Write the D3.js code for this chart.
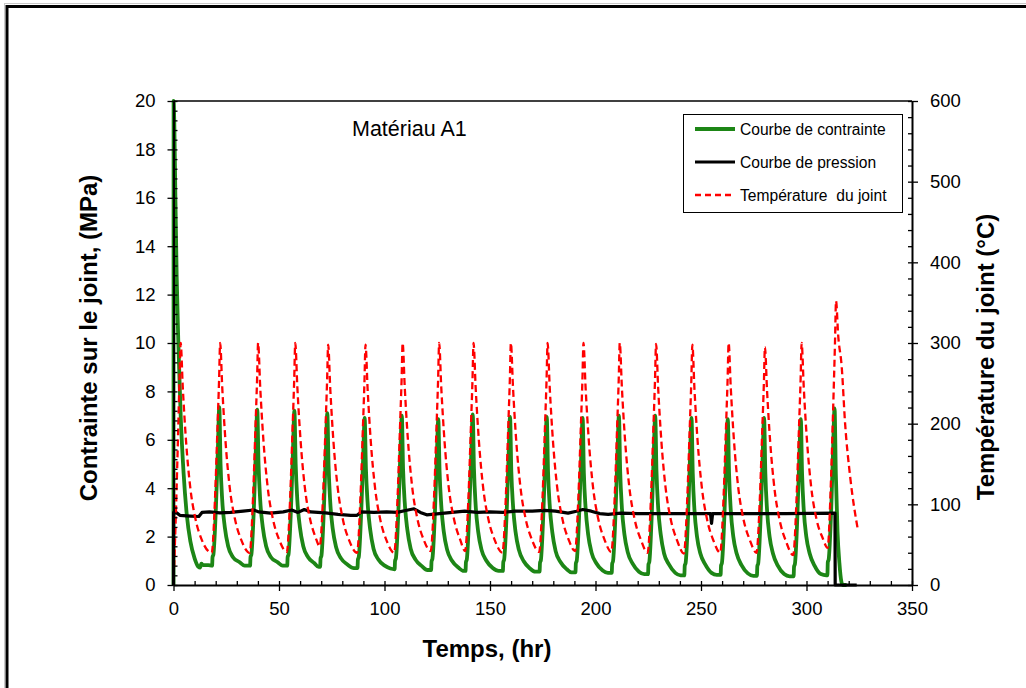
<!DOCTYPE html>
<html><head><meta charset="utf-8">
<script src="https://cdn.jsdelivr.net/npm/d3@7"></script>
<style>
html,body{margin:0;padding:0;background:#fff;}
svg{display:block;font-family:"Liberation Sans",Arial,sans-serif;}
</style></head>
<body>
<svg id="c" width="1026" height="688"></svg>
<script>
// ---- data ----
const xTicks = [0,50,100,150,200,250,300,350];
const yLeftTicks = [0,2,4,6,8,10,12,14,16,18,20];
const yRightTicks = [0,100,200,300,400,500,600];
const seriesNames = ["Courbe de contrainte","Courbe de pression","Température  du joint"];
const chartLabel = "Matériau A1";

// Contrainte (MPa) : [temps hr, valeur]
const contrainte = [
[0,0],[0.05,20],[0.4,19],[0.9,16],[1.5,12.8],[2.3,10],[3.4,7],[4.8,4.6],[6.3,2.9],[8,1.8],[10,1.1],[11.8,0.75],[12.6,0.72],[13.2,0.88],[14,0.82],[16.5,0.82],
[18.3,0.8],[18.5,1.15],[18.9,1.25],[20.1,3.2],[21.0,5.5],[21.7,7.35],[22.3,5.0],[23.1,3.5],[24.3,2.4],[25.9,1.6],[28.2,1.15],[31.2,0.95],[33.7,0.8],
[36.3,0.8],[36.5,1.15],[36.9,1.25],[38.1,3.2],[39.0,5.5],[39.7,7.25],[40.3,5.0],[41.1,3.5],[42.3,2.4],[43.9,1.6],[46.2,1.15],[49.2,0.95],[51.7,0.8],
[53.9,0.8],[54.1,1.15],[54.5,1.25],[55.7,3.2],[56.6,5.5],[57.3,7.2],[57.9,5.0],[58.7,3.5],[59.9,2.4],[61.5,1.6],[63.8,1.15],[66.8,0.9],[68.8,0.75],
[69.5,0.75],[69.7,1.1],[70.1,1.2],[71.3,3.2],[72.2,5.5],[72.9,7.1],[73.5,4.9],[74.3,3.4],[75.5,2.3],[77.1,1.55],[79.4,1.1],[82.4,0.85],[85.5,0.7],
[87.2,0.7],[87.4,1.05],[87.8,1.15],[89.0,3.1],[89.9,5.3],[90.6,6.9],[91.2,4.8],[92.0,3.4],[93.2,2.3],[94.8,1.5],[97.1,1.05],[100.1,0.8],[102.8,0.68],
[104.8,0.65],[105.0,1.0],[105.4,1.1],[106.6,3.1],[107.5,5.4],[108.2,7.0],[108.8,4.8],[109.6,3.4],[110.8,2.3],[112.4,1.5],[114.7,1.05],[117.7,0.78],[120.3,0.62],
[122.1,0.62],[122.3,0.98],[122.7,1.08],[123.9,3.0],[124.8,5.3],[125.5,6.85],[126.1,4.7],[126.9,3.3],[128.1,2.2],[129.7,1.45],[132.0,1.0],[135.0,0.72],[137.6,0.58],
[138.4,0.58],[138.6,0.95],[139.0,1.05],[140.2,3.1],[141.1,5.4],[141.8,7.05],[142.4,4.8],[143.2,3.3],[144.4,2.2],[146.0,1.45],[148.3,1.0],[151.3,0.7],[154.1,0.58],
[156.1,0.58],[156.3,0.95],[156.7,1.05],[157.9,3.0],[158.8,5.3],[159.5,6.95],[160.1,4.7],[160.9,3.3],[162.1,2.2],[163.7,1.45],[166.0,0.98],[169.0,0.68],[171.5,0.55],
[173.5,0.55],[173.7,0.92],[174.1,1.02],[175.3,3.0],[176.2,5.3],[176.9,6.95],[177.5,4.7],[178.3,3.3],[179.5,2.2],[181.1,1.4],[183.4,0.95],[186.4,0.65],[188.6,0.52],
[190.5,0.52],[190.7,0.9],[191.1,1.0],[192.3,3.0],[193.2,5.3],[193.9,6.9],[194.5,4.6],[195.3,3.2],[196.5,2.1],[198.1,1.35],[200.4,0.9],[203.4,0.6],[205.9,0.5],
[207.7,0.5],[207.9,0.88],[208.3,0.98],[209.5,3.0],[210.4,5.4],[211.1,7.0],[211.7,4.7],[212.5,3.2],[213.7,2.1],[215.3,1.35],[217.6,0.88],[220.6,0.55],[223.1,0.45],
[224.9,0.45],[225.1,0.85],[225.5,0.95],[226.7,3.0],[227.6,5.4],[228.3,7.0],[228.9,4.7],[229.7,3.2],[230.9,2.1],[232.5,1.3],[234.8,0.85],[237.8,0.5],[240.3,0.4],
[242.1,0.4],[242.3,0.8],[242.7,0.9],[243.9,2.9],[244.8,5.3],[245.5,6.9],[246.1,4.6],[246.9,3.1],[248.1,2.0],[249.7,1.3],[252.0,0.85],[255.0,0.5],[257.5,0.42],
[259.3,0.42],[259.5,0.8],[259.9,0.9],[261.1,2.9],[262.0,5.3],[262.7,6.85],[263.3,4.6],[264.1,3.1],[265.3,2.0],[266.9,1.3],[269.2,0.82],[272.2,0.48],[274.8,0.38],
[276.5,0.38],[276.7,0.78],[277.1,0.88],[278.3,2.9],[279.2,5.3],[279.9,6.9],[280.5,4.6],[281.3,3.1],[282.5,2.0],[284.1,1.3],[286.4,0.8],[289.4,0.45],[292.0,0.36],
[293.9,0.36],[294.1,0.76],[294.5,0.86],[295.7,2.9],[296.6,5.3],[297.3,6.85],[297.9,4.6],[298.7,3.1],[299.9,2.0],[301.5,1.3],[303.8,0.8],[306.8,0.45],[309.4,0.4],
[309.9,0.4],[310.1,0.95],[310.5,1.05],[311.7,3.1],[312.6,5.6],[313.3,7.3],[313.9,4.6],[314.7,2.2],[315.6,0.9],[316.5,0.15],[317.2,0],[319,0]
];

// Pression : [temps hr, valeur]
const pression = [
[0,0],[0.05,3.0],[1.5,2.98],[3,2.88],[8,2.85],[12,2.83],[13.5,3.0],[17,3.02],[22,2.98],[27,3.0],[33,3.05],[38,3.1],[40.5,3.02],[46,2.97],[52,3.02],[56,3.1],[59,3.0],[62,3.12],[65,3.02],[72,2.98],[78,2.92],[84,2.88],[87,2.88],[89,3.02],[95,3.0],[101,3.02],[106,3.0],[110,3.08],[114,3.15],[117,3.0],[120,2.9],[126,2.95],[132,3.0],[138,3.05],[144,3.0],[150,3.02],[156,3.0],[162,3.05],[170,3.05],[176,3.08],[181,3.05],[187,2.97],[191,3.05],[194,3.12],[198,3.05],[202,2.95],[206,2.92],[212,2.97],[220,2.95],[235,2.95],[250,2.95],[254.5,2.95],[255,2.55],[255.5,2.95],[270,2.95],[290,2.95],[313.5,2.97],[313.6,0],[323.8,0]
];

// Température du joint (°C) : [temps hr, valeur]
const temperature = [
[0.3,22],[1.2,95],[2.2,190],[2.9,260],[3.4,300],[4.4,245],[5.9,180],[7.9,122],[10.4,82],[13.4,56],
[18.1,40],[19.7,109],[20.8,192],[21.6,254],[22.1,300],[23.1,245],[24.6,180],[26.6,122],[29.1,82],[32.1,56],
[36.1,40],[37.7,109],[38.8,192],[39.6,254],[40.1,300],[41.1,245],[42.6,180],[44.6,122],[47.1,82],[50.1,56],
[53.7,41],[55.3,109],[56.4,192],[57.2,254],[57.7,300],[58.7,245],[60.2,180],[62.2,122],[64.7,82],[67.2,60],
[69.3,48],[70.9,112],[72.0,192],[72.8,254],[73.3,298],[74.3,243],[75.8,178],[77.8,121],[80.3,81],[83.3,55],
[87.0,40],[88.6,109],[89.7,190],[90.5,252],[91.0,298],[92.0,243],[93.5,178],[95.5,121],[98.0,81],[101.0,55],
[104.6,40],[106.2,109],[107.3,192],[108.1,254],[108.6,300],[109.6,245],[111.1,180],[113.1,122],[115.6,82],[118.6,56],
[121.9,42],[123.5,110],[124.6,192],[125.4,254],[125.9,300],[126.9,245],[128.4,180],[130.4,122],[132.9,82],[135.9,56],
[138.2,42],[139.8,110],[140.9,192],[141.7,254],[142.2,300],[143.2,245],[144.7,180],[146.7,122],[149.2,82],[152.2,56],
[155.9,40],[157.5,109],[158.6,192],[159.4,254],[159.9,300],[160.9,245],[162.4,180],[164.4,122],[166.9,82],[169.9,56],
[173.3,41],[174.9,109],[176.0,192],[176.8,254],[177.3,300],[178.3,245],[179.8,180],[181.8,122],[184.3,82],[187.3,56],
[190.3,42],[191.9,110],[193.0,192],[193.8,254],[194.3,300],[195.3,245],[196.8,180],[198.8,122],[201.3,82],[204.3,56],
[207.5,41],[209.1,109],[210.2,192],[211.0,254],[211.5,300],[212.5,245],[214.0,180],[216.0,122],[218.5,82],[221.5,56],
[224.7,40],[226.3,109],[227.4,192],[228.2,254],[228.7,299],[229.7,244],[231.2,179],[233.2,121],[235.7,81],[238.7,55],
[241.9,39],[243.5,108],[244.6,190],[245.4,252],[245.9,298],[246.9,243],[248.4,178],[250.4,121],[252.9,81],[255.9,55],
[259.1,40],[260.7,109],[261.8,192],[262.6,254],[263.1,300],[264.1,245],[265.6,180],[267.6,122],[270.1,82],[273.1,56],
[276.3,40],[277.9,108],[279.0,190],[279.8,250],[280.3,295],[281.3,241],[282.8,177],[284.8,120],[287.3,80],[290.3,54],
[293.7,37],[295.3,108],[296.4,192],[297.2,254],[297.7,300],[298.7,245],[300.2,180],[302.2,122],[304.7,82],[307.7,58],
[310.0,46],[311.6,130],[312.7,225],[313.5,300],[314.0,352],[315.0,310],[316.7,270],[318.3,200],[320.7,134],[324.3,69]
];

// ---- drawing ----
const svg = d3.select("#c");
const L = 173.5, R = 912, T = 101, B = 585;
const x = d3.scaleLinear().domain([0,350]).range([L,R]);
const yL = d3.scaleLinear().domain([0,20]).range([B,T]);
const yR = d3.scaleLinear().domain([0,600]).range([B,T]);

// outer frame
svg.append("rect").attr("x",4.5).attr("y",3.5).attr("width",1040).attr("height",700)
  .attr("fill","none").attr("stroke","#c8c8c8").attr("stroke-width",1);
svg.append("rect").attr("x",7).attr("y",6.5).attr("width",1040).attr("height",700)
  .attr("fill","none").attr("stroke","#000").attr("stroke-width",3);

svg.append("defs").append("clipPath").attr("id","clip")
  .append("rect").attr("x",L-3).attr("y",T-3).attr("width",R-L+6).attr("height",B-T+5);

const g = svg.append("g").attr("clip-path","url(#clip)");

const lineL = d3.line().x(d=>x(d[0])).y(d=>yL(d[1])).curve(d3.curveMonotoneX);
const lineR = d3.line().x(d=>x(d[0])).y(d=>yR(d[1])).curve(d3.curveMonotoneX);

g.append("path").datum(contrainte).attr("d",lineL)
  .attr("fill","none").attr("stroke","#1d8616").attr("stroke-width",3.8).attr("stroke-linejoin","round");
g.append("path").datum(pression).attr("d",d3.line().x(d=>x(d[0])).y(d=>yL(d[1])))
  .attr("fill","none").attr("stroke","#000").attr("stroke-width",3.2).attr("stroke-linejoin","round");
g.append("path").datum(temperature).attr("d",lineR)
  .attr("fill","none").attr("stroke","#ff0000").attr("stroke-width",2.3).attr("stroke-dasharray","7,4");

// axes
const tickFont = 18.5;
function styleAxis(sel){
  sel.select(".domain").attr("stroke","#000").attr("stroke-width",2);
  sel.selectAll(".tick line").attr("stroke","#000").attr("stroke-width",1.3);
  sel.selectAll(".tick text").attr("fill","#000").style("font-size",tickFont+"px")
     .style("font-family","'Liberation Sans',Arial,sans-serif");
}
// minor ticks (inside)
const xMinor = d3.range(0,351,10);
const yLMinor = d3.range(0,20.01,0.4);
const yRMinor = d3.range(0,601,20);

svg.append("g").attr("transform",`translate(0,${B})`)
  .call(d3.axisBottom(x).tickValues(xMinor).tickSize(-4).tickSizeOuter(0).tickFormat(""))
  .call(s=>{s.select(".domain").remove(); s.selectAll(".tick line").attr("stroke","#000").attr("stroke-width",1.3);});
svg.append("g").attr("transform",`translate(${L},0)`)
  .call(d3.axisLeft(yL).tickValues(yLMinor).tickSize(-4).tickSizeOuter(0).tickFormat(""))
  .call(s=>{s.select(".domain").remove(); s.selectAll(".tick line").attr("stroke","#000").attr("stroke-width",1.3);});
svg.append("g").attr("transform",`translate(${R},0)`)
  .call(d3.axisRight(yR).tickValues(yRMinor).tickSize(-4).tickSizeOuter(0).tickFormat(""))
  .call(s=>{s.select(".domain").remove(); s.selectAll(".tick line").attr("stroke","#000").attr("stroke-width",1.3);});

svg.append("g").attr("transform",`translate(0,${B})`)
  .call(d3.axisBottom(x).tickValues(xTicks).tickSize(6).tickSizeOuter(0).tickPadding(11).tickFormat(d3.format("d")))
  .call(styleAxis);
svg.append("g").attr("transform",`translate(${L},0)`)
  .call(d3.axisLeft(yL).tickValues(yLeftTicks).tickSize(6).tickSizeOuter(0).tickPadding(12).tickFormat(d3.format("d")))
  .call(styleAxis);
svg.append("g").attr("transform",`translate(${R},0)`)
  .call(d3.axisRight(yR).tickValues(yRightTicks).tickSize(6).tickSizeOuter(0).tickPadding(12).tickFormat(d3.format("d")))
  .call(styleAxis);
// top border of plot
svg.append("line").attr("x1",L).attr("x2",R).attr("y1",T).attr("y2",T).attr("stroke","#000").attr("stroke-width",1.5);

// titles
svg.append("text").attr("transform","translate(97,338) rotate(-90)").attr("text-anchor","middle")
  .style("font-size","24px").style("font-weight","bold").text("Contrainte sur le joint, (MPa)");
svg.append("text").attr("transform","translate(994,357) rotate(-90)").attr("text-anchor","middle")
  .style("font-size","24px").style("font-weight","bold").text("Température du joint (°C)");
svg.append("text").attr("x",487).attr("y",657).attr("text-anchor","middle")
  .style("font-size","24px").style("font-weight","bold").text("Temps, (hr)");
svg.append("text").attr("x",352).attr("y",136).style("font-size","21.5px").text(chartLabel);

// legend
const lg = svg.append("g");
lg.append("rect").attr("x",683.5).attr("y",114.5).attr("width",219).attr("height",98)
  .attr("fill","#fff").attr("stroke","#000").attr("stroke-width",1);
const legStyles = [
  {c:"#1d8616",w:3.8,d:null},
  {c:"#000",w:3.2,d:null},
  {c:"#ff0000",w:2.3,d:"6,4"}
];
seriesNames.forEach((n,i)=>{
  const yy = 129 + i*33;
  lg.append("line").attr("x1",695).attr("x2",735).attr("y1",yy).attr("y2",yy)
    .attr("stroke",legStyles[i].c).attr("stroke-width",legStyles[i].w)
    .attr("stroke-dasharray",legStyles[i].d);
  lg.append("text").attr("x",740).attr("y",yy).attr("dy","0.36em")
    .style("font-size","15.6px").style("white-space","pre").attr("xml:space","preserve").text(n);
});
</script>
</body></html>
